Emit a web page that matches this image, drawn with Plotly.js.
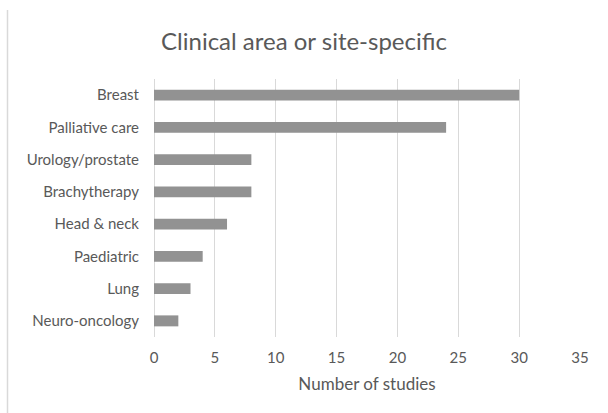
<!DOCTYPE html>
<html>
<head>
<meta charset="utf-8">
<script src="https://cdn.plot.ly/plotly-3.0.1.min.js"></script>
<style>html,body{margin:0;padding:0;background:#fff;}#chart{width:608px;height:413px;}</style>
</head>
<body>
<div id="chart"></div>
<script>
const categories = ["Breast", "Palliative care", "Urology/prostate", "Brachytherapy", "Head & neck", "Paediatric", "Lung", "Neuro-oncology"];
const studies = [30, 24, 8, 8, 6, 4, 3, 2];
const xTicks = [0, 5, 10, 15, 20, 25, 30, 35];

const W = 608, H = 413, L = 154, R = 28, T = 79, B = 76;
const plotW = W - L - R, plotH = H - T - B;

const trace = {
  type: 'bar',
  orientation: 'h',
  x: studies,
  y: categories,
  marker: {color: '#929292'},
  hoverinfo: 'x+y'
};

const layout = {
  width: W, height: H,
  margin: {l: L, r: R, t: T, b: B},
  paper_bgcolor: '#fff', plot_bgcolor: '#fff',
  font: {family: 'Lato, "Open Sans", sans-serif', color: '#595959', size: 15},
  title: {text: 'Clinical area or site-specific', font: {size: 24, color: '#595959'}, x: 0.5, xanchor: 'center', y: 0.9, yanchor: 'middle'},
  bargap: 0.66,
  showlegend: false,
  xaxis: {
    range: [0, 35],
    tickvals: xTicks,
    ticktext: xTicks.map(String),
    showgrid: true, gridcolor: '#d9d9d9', gridwidth: 1,
    zeroline: true, zerolinecolor: '#d9d9d9', zerolinewidth: 1,
    showline: false,
    ticks: 'outside', ticklen: 7, tickcolor: 'rgba(0,0,0,0)',
    tickfont: {size: 15, color: '#595959'},
    title: {text: 'Number of studies', font: {size: 17, color: '#595959'}, standoff: 13}
  },
  yaxis: {
    type: 'category',
    range: [7.5, -0.5],
    showgrid: false, zeroline: false, showline: false,
    ticks: 'outside', ticklen: 11, tickcolor: 'rgba(0,0,0,0)',
    tickfont: {size: 15, color: '#595959'}
  },
  shapes: [{
    type: 'line', xref: 'paper', yref: 'paper',
    x0: (7.5 - L) / plotW, x1: (7.5 - L) / plotW,
    y0: -B / plotH,
    y1: (H - 10 - B) / plotH,
    line: {color: '#d9d9d9', width: 1.5}
  }]
};

Plotly.newPlot('chart', [trace], layout, {displayModeBar: false, staticPlot: true});
</script>
</body>
</html>
